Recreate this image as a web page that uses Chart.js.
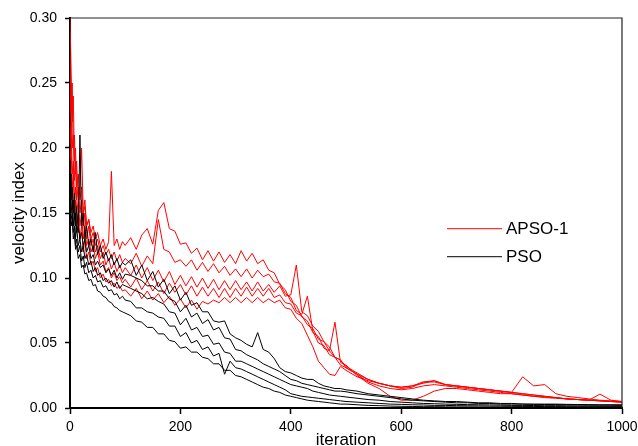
<!DOCTYPE html>
<html lang="en">
<head>
  <meta charset="UTF-8">
  <title>Velocity index - APSO-1 vs PSO</title>
  <script src="https://cdn.jsdelivr.net/npm/chart.js"></script>
  <style>
    html, body { margin: 0; padding: 0; background: #fff; }
    .chart-container { position: relative; width: 638px; height: 446px; }
  </style>
</head>
<body>
<div class="chart-container"><canvas id="chart"></canvas></div>
<script>
  // iteration grid shared by all runs (denser at the start where the curves are noisy)
  const iterations = [
    0,2,4,6,8,10,12,15,18,21,24,27,30,34,38,42,46,50,55,60,65,70,75,80,85,90,95,100,
    110,120,130,140,150,160,170,180,190,200,210,220,230,240,250,260,270,280,290,300,
    310,320,330,340,350,360,370,380,390,400,410,420,430,440,450,460,470,480,490,500,
    520,540,560,580,600,620,640,660,680,700,720,740,760,780,800,820,840,860,880,900,
    920,940,960,980,1000
  ];

  // APSO-1 runs (red)
  const apso1 = [
    0.3,0.26,0.22,0.24,0.19,0.2,0.17,0.18,0.16,0.17,0.15,0.155,0.14,0.145,0.135,0.14,0.13,0.135,0.125,0.13,0.122,0.128,0.182,0.125,0.13,0.122,0.128,0.125,
    0.131,0.122,0.133,0.138,0.126,0.152,0.158,0.138,0.136,0.126,
    0.127,0.119,0.123,0.114,0.121,0.113,0.12,0.112,0.118,0.111,
    0.121,0.113,0.119,0.111,0.114,0.106,0.104,0.095,0.091,0.082,
    0.079,0.07,0.067,0.058,0.055,0.046,0.044,0.039,0.037,0.032,
    0.027,0.022,0.019,0.017,0.015,0.016,0.02,0.021,0.018,0.017,
    0.016,0.015,0.014,0.013,0.012,0.024,0.017,0.018,0.011,0.009,
    0.008,0.007,0.006,0.0055,0.005
  ];
  const apso2 = [
    0.27,0.23,0.25,0.2,0.21,0.18,0.19,0.16,0.17,0.2,0.15,0.16,0.14,0.145,0.13,0.135,0.125,0.13,0.12,0.125,0.118,0.122,0.115,0.12,0.113,0.118,0.112,0.115,
    0.111,0.119,0.109,0.117,0.111,0.145,0.122,0.12,0.112,0.114,
    0.109,0.114,0.106,0.112,0.105,0.111,0.104,0.109,0.102,0.107,
    0.101,0.107,0.1,0.106,0.101,0.103,0.097,0.096,0.088,0.085,
    0.075,0.072,0.086,0.059,0.05,0.048,0.041,0.039,0.033,0.031,
    0.026,0.022,0.019,0.017,0.016,0.017,0.019,0.021,0.018,0.017,
    0.016,0.015,0.014,0.013,0.012,0.011,0.01,0.009,0.008,0.007,
    0.0065,0.006,0.0055,0.005,0.0045
  ];
  const apso3 = [
    0.22,0.25,0.2,0.21,0.175,0.19,0.16,0.17,0.15,0.16,0.14,0.15,0.13,0.14,0.125,0.13,0.12,0.125,0.115,0.12,0.11,0.115,0.107,0.112,0.105,0.11,0.104,0.108,
    0.102,0.11,0.1,0.108,0.098,0.106,0.097,0.105,0.095,0.102,
    0.094,0.101,0.093,0.1,0.092,0.099,0.091,0.098,0.091,0.098,
    0.091,0.097,0.09,0.097,0.09,0.095,0.089,0.094,0.086,0.087,
    0.11,0.074,0.071,0.063,0.059,0.051,0.047,0.039,0.037,0.031,
    0.026,0.02,0.017,0.015,0.014,0.015,0.017,0.018,0.017,0.016,
    0.015,0.014,0.013,0.012,0.011,0.01,0.009,0.0085,0.008,0.007,
    0.0065,0.006,0.0107,0.006,0.005
  ];
  const apso4 = [
    0.2,0.22,0.18,0.19,0.16,0.17,0.15,0.16,0.14,0.15,0.13,0.14,0.125,0.13,0.12,0.125,0.115,0.12,0.11,0.113,0.105,0.108,0.1,0.104,0.098,0.101,0.096,0.099,
    0.093,0.1,0.091,0.098,0.09,0.097,0.088,0.096,0.089,0.095,
    0.087,0.094,0.086,0.093,0.086,0.092,0.085,0.092,0.085,0.092,
    0.086,0.093,0.086,0.092,0.086,0.092,0.085,0.087,0.081,0.08,
    0.073,0.071,0.064,0.061,0.053,0.051,0.044,0.066,0.035,0.033,
    0.025,0.019,0.015,0.009,0.006,0.006,0.009,0.013,0.015,0.015,
    0.014,0.013,0.012,0.011,0.011,0.01,0.009,0.008,0.0075,0.007,
    0.0065,0.006,0.0055,0.005,0.0045
  ];
  const apso5 = [
    0.19,0.2,0.17,0.18,0.15,0.16,0.14,0.15,0.13,0.14,0.12,0.13,0.115,0.12,0.11,0.113,0.105,0.108,0.1,0.103,0.097,0.099,0.094,0.096,0.092,0.094,0.09,0.091,
    0.086,0.092,0.084,0.09,0.083,0.088,0.081,0.086,0.079,0.084,
    0.077,0.083,0.076,0.082,0.08,0.083,0.081,0.085,0.081,0.085,
    0.081,0.085,0.081,0.085,0.081,0.084,0.081,0.083,0.077,0.076,
    0.069,0.065,0.056,0.047,0.036,0.031,0.026,0.025,0.032,0.029,
    0.024,0.021,0.019,0.017,0.016,0.017,0.02,0.02,0.018,0.017,
    0.016,0.015,0.014,0.013,0.012,0.011,0.01,0.009,0.008,0.007,
    0.0065,0.006,0.0055,0.005,0.0045
  ];

  // PSO runs (black)
  const pso1 = [
    0.175,0.16,0.17,0.15,0.165,0.14,0.155,0.135,0.21,0.14,0.15,0.13,0.14,0.125,0.13,0.12,0.135,0.118,0.125,0.115,0.12,0.113,0.118,0.11,0.115,0.108,0.112,0.11,
    0.114,0.102,0.11,0.098,0.105,0.093,0.099,0.088,0.094,0.083,
    0.089,0.079,0.081,0.074,0.074,0.067,0.066,0.067,0.057,0.054,
    0.052,0.049,0.047,0.058,0.045,0.043,0.038,0.031,0.028,0.027,
    0.025,0.023,0.022,0.022,0.019,0.017,0.016,0.015,0.015,0.014,
    0.013,0.011,0.01,0.009,0.008,0.007,0.006,0.0055,0.005,0.005,
    0.0045,0.004,0.004,0.0035,0.0035,0.003,0.003,0.003,0.003,0.0028,
    0.0027,0.0026,0.0025,0.0025,0.0025
  ];
  const pso2 = [
    0.17,0.18,0.155,0.16,0.145,0.15,0.135,0.14,0.13,0.135,0.125,0.13,0.12,0.125,0.115,0.118,0.11,0.113,0.108,0.11,0.104,0.107,0.102,0.106,0.1,0.104,0.099,0.103,
    0.102,0.1,0.098,0.094,0.094,0.09,0.09,0.084,0.082,0.074,
    0.079,0.07,0.073,0.065,0.068,0.06,0.062,0.054,0.053,0.045,
    0.044,0.041,0.039,0.037,0.034,0.032,0.03,0.028,0.025,0.022,
    0.021,0.019,0.018,0.017,0.016,0.015,0.014,0.013,0.013,0.0125,
    0.011,0.01,0.009,0.008,0.007,0.006,0.0055,0.005,0.0045,0.004,
    0.004,0.0035,0.0035,0.003,0.003,0.003,0.0028,0.0027,0.0026,0.0025,
    0.0024,0.0023,0.0022,0.0022,0.002
  ];
  const pso3 = [
    0.165,0.15,0.16,0.14,0.15,0.13,0.14,0.125,0.13,0.12,0.125,0.115,0.118,0.11,0.113,0.105,0.108,0.102,0.104,0.098,0.1,0.096,0.098,0.093,0.097,0.092,0.095,0.094,
    0.092,0.09,0.088,0.084,0.085,0.082,0.08,0.074,0.073,0.064,
    0.069,0.06,0.062,0.055,0.056,0.049,0.05,0.043,0.042,0.036,
    0.036,0.034,0.032,0.03,0.028,0.026,0.024,0.022,0.02,0.018,
    0.017,0.016,0.015,0.013,0.012,0.011,0.01,0.0095,0.009,0.0085,
    0.0075,0.0065,0.006,0.005,0.0045,0.004,0.0035,0.0033,0.003,0.0028,
    0.0026,0.0025,0.0024,0.0022,0.002,0.002,0.0019,0.0018,0.0018,0.0017,
    0.0016,0.0016,0.0015,0.0015,0.0015
  ];
  const pso4 = [
    0.16,0.145,0.15,0.135,0.14,0.125,0.13,0.12,0.125,0.113,0.117,0.108,0.112,0.104,0.106,0.1,0.102,0.097,0.098,0.093,0.094,0.09,0.091,0.087,0.088,0.084,0.086,0.083,
    0.082,0.077,0.077,0.074,0.073,0.07,0.069,0.063,0.063,0.055,
    0.058,0.05,0.052,0.045,0.047,0.04,0.042,0.026,0.036,0.031,
    0.03,0.028,0.026,0.024,0.022,0.02,0.018,0.016,0.014,0.011,
    0.01,0.009,0.0085,0.008,0.0075,0.007,0.0065,0.006,0.0055,0.005,
    0.0045,0.004,0.0035,0.003,0.0028,0.0025,0.0023,0.002,0.002,0.0018,
    0.0017,0.0016,0.0015,0.0014,0.0013,0.0012,0.0012,0.0011,0.0011,0.001,
    0.001,0.001,0.001,0.001,0.001
  ];
  const pso5 = [
    0.155,0.14,0.145,0.13,0.135,0.122,0.125,0.115,0.118,0.108,0.11,0.103,0.104,0.098,0.099,0.094,0.095,0.09,0.089,0.086,0.085,0.082,0.081,0.078,0.077,0.075,0.074,0.073,
    0.071,0.067,0.066,0.062,0.062,0.057,0.057,0.052,0.051,0.046,
    0.047,0.043,0.043,0.039,0.038,0.034,0.034,0.029,0.029,0.025,
    0.024,0.022,0.02,0.018,0.016,0.015,0.013,0.012,0.01,0.009,
    0.008,0.007,0.006,0.0055,0.005,0.0045,0.004,0.0035,0.003,0.003,
    0.0025,0.002,0.0018,0.0015,0.0013,0.0012,0.001,0.001,0.0009,0.0008,
    0.0008,0.0007,0.0007,0.0006,0.0006,0.0006,0.0005,0.0005,0.0005,0.0005,
    0.0005,0.0005,0.0005,0.0005,0.0005
  ];

  const xTicks = [0, 200, 400, 600, 800, 1000];
  const yTicks = [0, 0.05, 0.10, 0.15, 0.20, 0.25, 0.30];
  const legendLabels = ['APSO-1', 'PSO'];
  const xTitle = 'iteration';
  const yTitle = 'velocity index';

  const FONT = "'Liberation Sans', Arial, sans-serif";

  function run(values, color) {
    return {
      data: iterations.map((it, i) => ({ x: it, y: values[i] })),
      borderColor: color,
      borderWidth: 1,
      pointRadius: 0,
      tension: 0,
      fill: false
    };
  }

  // PSO first so black is drawn over red
  const datasets = [pso1, pso2, pso3, pso4, pso5].map(v => run(v, '#000000'))
    .concat([apso1, apso2, apso3, apso4, apso5].map(v => run(v, '#ff0000')));

  // frame, axis titles and the small legend inside the plot
  const decorations = {
    id: 'decorations',
    afterDraw(chart) {
      const { ctx, chartArea: a } = chart;
      ctx.save();
      ctx.strokeStyle = '#222';
      ctx.lineWidth = 1.2;
      ctx.beginPath();
      ctx.moveTo(a.left, a.top);
      ctx.lineTo(a.right, a.top);
      ctx.lineTo(a.right, a.bottom);
      ctx.stroke();

      ctx.fillStyle = '#000';
      ctx.font = '17px ' + FONT;
      ctx.textAlign = 'center';
      ctx.textBaseline = 'alphabetic';
      ctx.fillText(xTitle, (a.left + a.right) / 2, 445);

      ctx.save();
      ctx.translate(24, (a.top + a.bottom) / 2);
      ctx.rotate(-Math.PI / 2);
      ctx.fillText(yTitle, 0, 0);
      ctx.restore();

      const w = a.right - a.left, h = a.bottom - a.top;
      const lx = a.left + w * 0.683, lx2 = lx + 55;
      const colors = ['#ff0000', '#000000'];
      ctx.textAlign = 'left';
      ctx.textBaseline = 'middle';
      legendLabels.forEach((lab, i) => {
        const ly = a.top + h * 0.539 + i * 28;
        ctx.strokeStyle = colors[i];
        ctx.lineWidth = 1;
        ctx.beginPath();
        ctx.moveTo(lx, ly + 0.5);
        ctx.lineTo(lx2, ly + 0.5);
        ctx.stroke();
        ctx.fillStyle = '#000';
        ctx.fillText(lab, lx2 + 4, ly + 1);
      });
      ctx.restore();
    }
  };

  new Chart(document.getElementById('chart'), {
    type: 'line',
    data: { datasets },
    options: {
      responsive: true,
      maintainAspectRatio: false,
      animation: false,
      devicePixelRatio: 1,
      layout: { padding: { top: 18, right: 0, bottom: 0, left: 0 } },
      plugins: { legend: { display: false }, tooltip: { enabled: false } },
      scales: {
        x: {
          type: 'linear',
          min: 0,
          max: 1000,
          afterBuildTicks: s => { s.ticks = xTicks.map(v => ({ value: v })); },
          afterFit: s => { s.height = 38; s.paddingRight = 16; s.paddingLeft = 0; },
          ticks: { color: '#000', font: { size: 14, family: FONT }, padding: 5, maxRotation: 0, callback: v => String(v) },
          grid: { drawOnChartArea: false, drawTicks: true, tickLength: 6, tickColor: '#000', tickWidth: 1.5 },
          border: { display: true, color: '#000', width: 2 }
        },
        y: {
          min: 0,
          max: 0.3,
          afterBuildTicks: s => { s.ticks = yTicks.map(v => ({ value: v })); },
          afterFit: s => { s.width = 70; },
          ticks: { color: '#000', font: { size: 14, family: FONT }, padding: 8, callback: v => v.toFixed(2) },
          grid: { drawOnChartArea: false, drawTicks: true, tickLength: 5, tickColor: '#000', tickWidth: 1.5 },
          border: { display: true, color: '#000', width: 2 }
        }
      }
    },
    plugins: [decorations]
  });
</script>
</body>
</html>
